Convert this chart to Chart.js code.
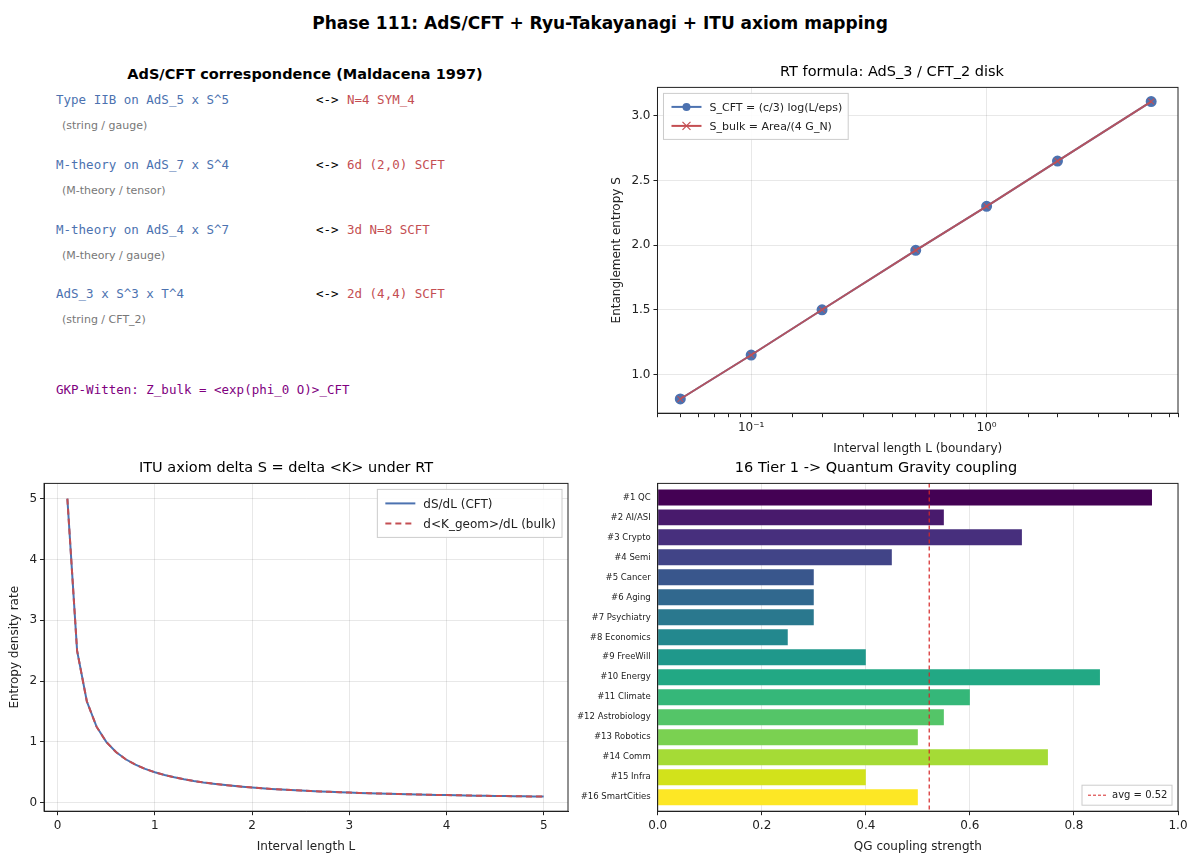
<!DOCTYPE html>
<html><head><meta charset="utf-8">
<script src="https://cdn.jsdelivr.net/npm/chart.js@4/dist/chart.umd.min.js"></script>
<style>
body{margin:0;width:1200px;height:857px;background:#fff;position:relative;font-family:"DejaVu Sans",sans-serif;overflow:hidden}
.abs{position:absolute;white-space:pre}
.mono{font-family:"DejaVu Sans Mono",monospace;font-size:12.5px}
.sub{font-size:11px;color:#777}
canvas{position:absolute}
</style></head><body>
<div class="abs" style="left:0;width:1200px;text-align:center;top:13px;font-size:17px;font-weight:bold">Phase 111: AdS/CFT + Ryu-Takayanagi + ITU axiom mapping</div>
<div class="abs" style="left:0;width:610px;text-align:center;top:66px;font-size:14.5px;font-weight:bold">AdS/CFT correspondence (Maldacena 1997)</div>
<div id="txt"></div>
<canvas id="c1" width="600" height="400" style="left:590px;top:60px"></canvas>
<canvas id="c2" width="580" height="402" style="left:0;top:456px"></canvas>
<canvas id="c3" width="620" height="402" style="left:574px;top:456px"></canvas>
<script>
// AdS/CFT pairs for the text panel
const bulkTheories = ['Type IIB on AdS_5 x S^5', 'M-theory on AdS_7 x S^4', 'M-theory on AdS_4 x S^7', 'AdS_3 x S^3 x T^4']
const boundaryTheories = ['N=4 SYM_4', '6d (2,0) SCFT', '3d N=8 SCFT', '2d (4,4) SCFT']
const theoryKinds = ['(string / gauge)', '(M-theory / tensor)', '(M-theory / gauge)', '(string / CFT_2)']

// RT formula data
const rtL = [0.05, 0.1, 0.2, 0.5, 1, 2, 5]
const sCFT = [0.81, 1.15, 1.50, 1.96, 2.30, 2.65, 3.11]
const sBulk = [0.81, 1.15, 1.50, 1.96, 2.30, 2.65, 3.11]

// entropy density rate
const rateL = [0.1,0.2,0.3,0.4,0.5,0.6,0.7,0.8,0.9,1.0,1.1,1.2,1.3,1.4,1.5,1.6,1.7,1.8,1.9,2.0,2.1,2.2,2.3,2.4,2.5,2.6,2.7,2.8,2.9,3.0,3.1,3.2,3.3,3.4,3.5,3.6,3.7,3.8,3.9,4.0,4.1,4.2,4.3,4.4,4.5,4.6,4.7,4.8,4.9,5.0]
const dSdL = [5.0,2.5,1.667,1.25,1.0,0.833,0.714,0.625,0.556,0.5,0.455,0.417,0.385,0.357,0.333,0.313,0.294,0.278,0.263,0.25,0.238,0.227,0.217,0.208,0.2,0.192,0.185,0.179,0.172,0.167,0.161,0.156,0.152,0.147,0.143,0.139,0.135,0.132,0.128,0.125,0.122,0.119,0.116,0.114,0.111,0.109,0.106,0.104,0.102,0.1]
const dKdL = dSdL.slice()

// tier 1 coupling
const tierNames = ['#1 QC','#2 AI/ASI','#3 Crypto','#4 Semi','#5 Cancer','#6 Aging','#7 Psychiatry','#8 Economics','#9 FreeWill','#10 Energy','#11 Climate','#12 Astrobiology','#13 Robotics','#14 Comm','#15 Infra','#16 SmartCities']
const coupling = [0.95,0.55,0.70,0.45,0.30,0.30,0.30,0.25,0.40,0.85,0.60,0.55,0.50,0.75,0.40,0.50]
const viridis = ['#440154','#481a6c','#472f7d','#414487','#39568c','#31688e','#2a788e','#23888e','#1f988b','#22a884','#35b779','#54c568','#7ad151','#a5db36','#d2e21b','#fde725']

const BLUE = '#4c72b0', RED = '#c44e52'
const txt = document.getElementById('txt')
const rowY = [92, 157, 222, 286]
bulkTheories.forEach((b, i) => {
  txt.innerHTML += `<div class="abs mono" style="left:56px;top:${rowY[i]}px;color:${BLUE}">${b}</div>` +
    `<div class="abs mono" style="left:316px;top:${rowY[i]}px;color:#000">&lt;-&gt;</div>` +
    `<div class="abs mono" style="left:347px;top:${rowY[i]}px;color:${RED}">${boundaryTheories[i]}</div>` +
    `<div class="abs sub" style="left:62px;top:${rowY[i] + 27}px">${theoryKinds[i]}</div>`
})
txt.innerHTML += `<div class="abs mono" style="left:56px;top:382px;color:#800080">GKP-Witten: Z_bulk = &lt;exp(phi_0 O)&gt;_CFT</div>`

Chart.defaults.font.family = '"DejaVu Sans", sans-serif'
Chart.defaults.color = '#222'
Chart.defaults.animation = false
const gridC = 'rgba(0,0,0,0.09)'
const border = { display: true, color: '#222', width: 1 }
const frame = {
  id: 'frame',
  afterDraw(c) {
    const a = c.chartArea, x = c.ctx
    x.save(); x.strokeStyle = '#222'; x.lineWidth = 1
    x.strokeRect(a.left, a.top, a.right - a.left, a.bottom - a.top); x.restore()
  }
}

// matplotlib-like legend box inside the plot area
function boxLegend(items, corner, fontSize) {
  return {
    id: 'boxLegend',
    afterDraw(c) {
      const a = c.chartArea, ctx = c.ctx
      ctx.save()
      ctx.font = fontSize + 'px "DejaVu Sans"'
      const lh = fontSize + 8
      const w = 52 + Math.max(...items.map(it => ctx.measureText(it.label).width))
      const h = items.length * lh + 8
      const bx = corner === 'left' ? a.left + 6 : a.right - w - 6, by = a.top + 6
      ctx.fillStyle = 'rgba(255,255,255,0.9)'; ctx.strokeStyle = '#ccc'; ctx.lineWidth = 1
      ctx.fillRect(bx, by, w, h); ctx.strokeRect(bx, by, w, h)
      items.forEach((it, i) => {
        const y = by + 4 + lh * i + lh / 2
        ctx.strokeStyle = it.color; ctx.lineWidth = 2; ctx.setLineDash(it.dash || [])
        ctx.beginPath(); ctx.moveTo(bx + 8, y); ctx.lineTo(bx + 38, y); ctx.stroke()
        ctx.setLineDash([])
        if (it.marker === 'circle') { ctx.fillStyle = it.color; ctx.beginPath(); ctx.arc(bx + 23, y, 4, 0, 7); ctx.fill() }
        if (it.marker === 'x') { ctx.lineWidth = 1.2; ctx.beginPath(); ctx.moveTo(bx + 19, y - 4); ctx.lineTo(bx + 27, y + 4); ctx.moveTo(bx + 27, y - 4); ctx.lineTo(bx + 19, y + 4); ctx.stroke() }
        ctx.fillStyle = '#222'; ctx.textBaseline = 'middle'; ctx.fillText(it.label, bx + 46, y + 1)
      })
      ctx.restore()
    }
  }
}
const titleOpt = t => ({ display: true, text: t, color: '#000', font: { size: 14.5, weight: 'normal' }, padding: { top: 4, bottom: 6 } })
const sup = { '-1': '10\u207b\u00b9', '0': '10\u2070' }

new Chart(document.getElementById('c1'), {
  type: 'line',
  data: {
    datasets: [
      { label: 'S_CFT = (c/3) log(L/eps)', data: rtL.map((l, i) => ({ x: l, y: sCFT[i] })), borderColor: BLUE, backgroundColor: BLUE, borderWidth: 2, pointRadius: 4.5, pointStyle: 'circle', order: 1 },
      { label: 'S_bulk = Area/(4 G_N)', data: rtL.map((l, i) => ({ x: l, y: sBulk[i] })), borderColor: 'rgba(196,78,82,0.85)', backgroundColor: RED, borderWidth: 2, pointRadius: 4, pointBorderWidth: 1.2, pointStyle: 'crossRot', order: 0 }
    ]
  },
  options: {
    responsive: false,
    layout: { padding: { left: 16, right: 12 } },
    plugins: { title: titleOpt('RT formula: AdS_3 / CFT_2 disk'), legend: { display: false }, tooltip: { enabled: false } },
    scales: {
      x: {
        type: 'logarithmic', min: 0.04, max: 6.5,
        title: { display: true, text: 'Interval length L (boundary)', font: { size: 12 } },
        grid: { color: c => (c.tick && (c.tick.value === 0.1 || c.tick.value === 1)) ? gridC : 'transparent', tickLength: 4, tickColor: '#222' },
        border,
        ticks: { autoSkip: false, maxRotation: 0, font: { size: 12 }, callback: v => v === 0.1 ? sup['-1'] : v === 1 ? sup['0'] : '' }
      },
      y: {
        min: 0.7, max: 3.22,
        afterBuildTicks: s => { s.ticks = [1, 1.5, 2, 2.5, 3].map(v => ({ value: v })) },
        title: { display: true, text: 'Entanglement entropy S', font: { size: 12 } },
        grid: { color: gridC, tickLength: 4, tickColor: '#222' }, border,
        ticks: { font: { size: 12 }, callback: v => v.toFixed(1) }
      }
    }
  },
  plugins: [frame, boxLegend([
    { label: 'S_CFT = (c/3) log(L/eps)', color: BLUE, marker: 'circle' },
    { label: 'S_bulk = Area/(4 G_N)', color: RED, marker: 'x' }
  ], 'left', 11)]
})

new Chart(document.getElementById('c2'), {
  type: 'line',
  data: {
    datasets: [
      { label: 'dS/dL (CFT)', data: rateL.map((l, i) => ({ x: l, y: dSdL[i] })), borderColor: BLUE, borderWidth: 2, pointRadius: 0, order: 1 },
      { label: 'd<K_geom>/dL (bulk)', data: rateL.map((l, i) => ({ x: l, y: dKdL[i] })), borderColor: RED, borderWidth: 2, borderDash: [6, 4], pointRadius: 0, order: 0 }
    ]
  },
  options: {
    responsive: false,
    layout: { padding: { left: 4, right: 12 } },
    plugins: { title: titleOpt('ITU axiom delta S = delta <K> under RT'), legend: { display: false }, tooltip: { enabled: false } },
    scales: {
      x: {
        type: 'linear', min: -0.14, max: 5.25,
        afterBuildTicks: s => { s.ticks = [0, 1, 2, 3, 4, 5].map(v => ({ value: v })) },
        title: { display: true, text: 'Interval length L', font: { size: 12 } },
        grid: { color: gridC, tickLength: 4, tickColor: '#222' }, border, ticks: { font: { size: 12 } }
      },
      y: {
        min: -0.14, max: 5.25,
        afterBuildTicks: s => { s.ticks = [0, 1, 2, 3, 4, 5].map(v => ({ value: v })) },
        title: { display: true, text: 'Entropy density rate', font: { size: 12 } },
        grid: { color: gridC, tickLength: 4, tickColor: '#222' }, border, ticks: { font: { size: 12 } }
      }
    }
  },
  plugins: [frame, boxLegend([
    { label: 'dS/dL (CFT)', color: BLUE },
    { label: 'd<K_geom>/dL (bulk)', color: RED, dash: [6, 4] }
  ], 'right', 12)]
})

const avg = coupling.reduce((a, b) => a + b, 0) / coupling.length
const avgLine = {
  id: 'avgLine',
  afterDatasetsDraw(c) {
    const x = c.scales.x.getPixelForValue(avg), a = c.chartArea, ctx = c.ctx
    ctx.save(); ctx.strokeStyle = '#d62728'; ctx.lineWidth = 1.2; ctx.setLineDash([4, 3])
    ctx.beginPath(); ctx.moveTo(x, a.top); ctx.lineTo(x, a.bottom); ctx.stroke()
    const w = 90, h = 20, bx = a.right - w - 6, by = a.bottom - h - 6
    ctx.setLineDash([]); ctx.fillStyle = 'rgba(255,255,255,0.9)'; ctx.strokeStyle = '#ccc'; ctx.lineWidth = 1
    ctx.fillRect(bx, by, w, h); ctx.strokeRect(bx, by, w, h)
    ctx.strokeStyle = '#d62728'; ctx.setLineDash([3, 2]); ctx.beginPath(); ctx.moveTo(bx + 6, by + 10); ctx.lineTo(bx + 24, by + 10); ctx.stroke()
    ctx.fillStyle = '#222'; ctx.font = '10px "DejaVu Sans"'; ctx.textBaseline = 'middle'
    ctx.fillText('avg = ' + avg.toFixed(2), bx + 30, by + 10.5)
    ctx.restore()
  }
}

new Chart(document.getElementById('c3'), {
  type: 'bar',
  data: { datasets: [{ data: coupling.map((v, i) => ({ x: v, y: i })), backgroundColor: viridis, categoryPercentage: 1, barPercentage: 0.8 }] },
  options: {
    responsive: false, indexAxis: 'y',
    layout: { padding: { right: 16 } },
    plugins: { title: titleOpt('16 Tier 1 -> Quantum Gravity coupling'), legend: { display: false }, tooltip: { enabled: false } },
    scales: {
      x: {
        min: 0, max: 1,
        ticks: { stepSize: 0.2, font: { size: 12 }, callback: v => v.toFixed(1) },
        title: { display: true, text: 'QG coupling strength', font: { size: 12 } },
        grid: { color: gridC, tickLength: 4, tickColor: '#222' }, border
      },
      y: {
        type: 'linear', reverse: true, min: -0.7, max: 15.7, offset: false,
        afterBuildTicks: s => { s.ticks = tierNames.map((n, i) => ({ value: i })) },
        grid: { display: false, tickLength: 4 }, border,
        ticks: { font: { size: 8.5 }, color: '#222', autoSkip: false, callback: v => tierNames[v] }
      }
    }
  },
  plugins: [frame, avgLine]
})
</script>
</body></html>
